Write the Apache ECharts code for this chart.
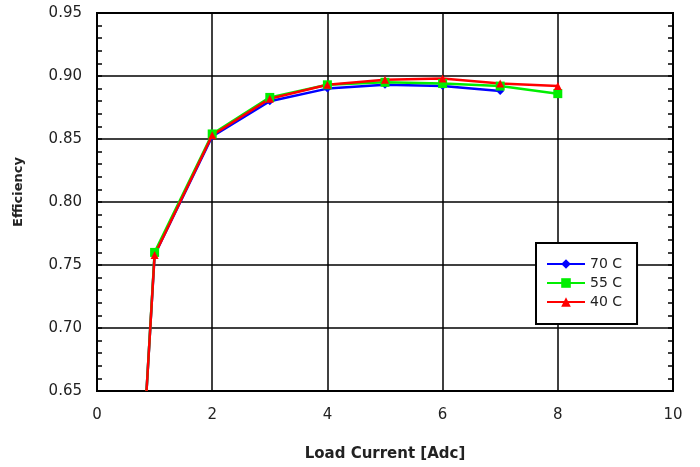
<!DOCTYPE html>
<html>
<head>
<meta charset="utf-8">
<script src="https://cdn.jsdelivr.net/npm/echarts@6/dist/echarts.min.js"></script>
<style>html,body{margin:0;padding:0;background:#fff}#c{width:700px;height:467px}</style>
</head>
<body>
<div id="c"></div>
<script>
var loads = [0.86, 1, 2, 3, 4, 5, 6, 7, 8];
var eff70 = [0.65, 0.758, 0.852, 0.880, 0.890, 0.893, 0.892, 0.888];
var eff55 = [0.65, 0.760, 0.854, 0.883, 0.893, 0.895, 0.894, 0.892, 0.886];
var eff40 = [0.65, 0.758, 0.853, 0.882, 0.893, 0.897, 0.898, 0.894, 0.892];
var seriesNames = ['70 C', '55 C', '40 C'];
var xTicks = [0, 2, 4, 6, 8, 10];
var yTicks = [0.65, 0.70, 0.75, 0.80, 0.85, 0.90, 0.95];

function pairs(vals) {
  return vals.map(function (v, i) {
    var item = { value: [loads[i], v] };
    if (i === 0) item.symbol = 'none';
    return item;
  });
}
var font = 'DejaVu Sans, Verdana, sans-serif';
var chart = echarts.init(document.getElementById('c'));
chart.setOption({
  animation: false,
  backgroundColor: '#fff',
  grid: { left: 97, right: 27, top: 13, bottom: 75, show: true, borderColor: '#000', borderWidth: 2, backgroundColor: 'transparent' },
  legend: {
    orient: 'vertical', left: 536, top: 243,
    padding: [14, 15, 15, 10], itemGap: 5, itemWidth: 38, itemHeight: 12,
    borderColor: '#000', borderWidth: 2, backgroundColor: '#fff',
    data: seriesNames,
    textStyle: { fontFamily: font, fontSize: 14, color: '#222' }
  },
  xAxis: {
    type: 'value', min: xTicks[0], max: xTicks[xTicks.length - 1], interval: 2,
    name: 'Load Current [Adc]', nameLocation: 'middle', nameGap: 56,
    nameTextStyle: { fontFamily: font, fontSize: 15, fontWeight: 'bold', color: '#222' },
    axisLine: { lineStyle: { color: '#000', width: 2 } },
    axisTick: { show: false },
    axisLabel: { margin: 17, fontFamily: font, fontSize: 15, color: '#222' },
    splitLine: { show: true, lineStyle: { color: '#000', width: 1.5 } }
  },
  yAxis: [{
    type: 'value', min: yTicks[0], max: yTicks[yTicks.length - 1], interval: 0.05,
    name: 'Efficiency', nameLocation: 'middle', nameGap: 72, nameRotate: 90,
    nameTextStyle: { fontFamily: font, fontSize: 13, fontWeight: 'bold', color: '#222', padding: [0, 0, 0, 20] },
    axisLine: { show: true, lineStyle: { color: '#000', width: 2 } },
    axisTick: { show: true, inside: true, length: 5, lineStyle: { color: '#000', width: 1.5 } },
    minorTick: { show: true, splitNumber: 5, length: 5, lineStyle: { color: '#000', width: 1.5 } },
    axisLabel: { margin: 15, fontFamily: font, fontSize: 15, color: '#222', formatter: function (v) { return v.toFixed(2); } },
    splitLine: { show: true, lineStyle: { color: '#000', width: 1.5 } }
  }, {
    type: 'value', position: 'right', min: yTicks[0], max: yTicks[yTicks.length - 1], interval: 0.05,
    axisLine: { show: true, lineStyle: { color: '#000', width: 2 } },
    axisTick: { show: true, inside: true, length: 5, lineStyle: { color: '#000', width: 1.5 } },
    minorTick: { show: true, splitNumber: 5, length: 5, lineStyle: { color: '#000', width: 1.5 } },
    axisLabel: { show: false },
    splitLine: { show: false }
  }],
  series: [{
    name: seriesNames[0], type: 'line', data: pairs(eff70), color: '#0000ff',
    symbol: 'diamond', symbolSize: 8, lineStyle: { width: 2.5 }
  }, {
    name: seriesNames[1], type: 'line', data: pairs(eff55), color: '#00ee00',
    symbol: 'rect', symbolSize: 9, lineStyle: { width: 2.5 }
  }, {
    name: seriesNames[2], type: 'line', data: pairs(eff40), color: '#ff0000',
    symbol: 'triangle', symbolSize: 8, lineStyle: { width: 2.5 }
  }]
});
</script>
</body>
</html>
